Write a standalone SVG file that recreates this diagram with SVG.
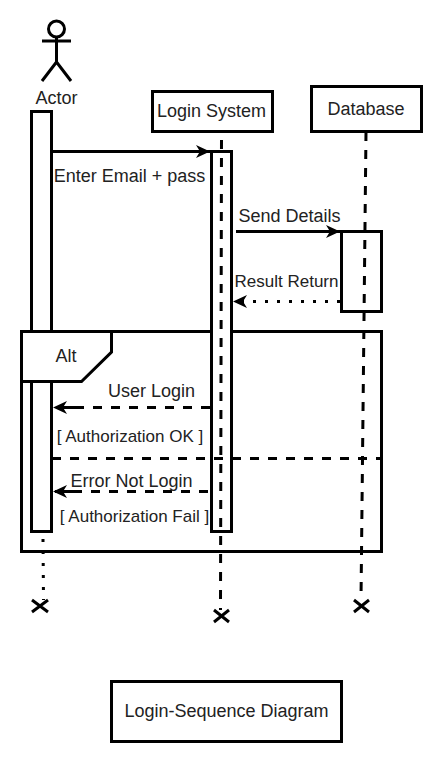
<svg xmlns="http://www.w3.org/2000/svg" width="443" height="763" viewBox="0 0 443 763">
<style>
text{font-family:"Liberation Sans",Arial,sans-serif;font-size:18px;fill:#222;text-anchor:middle}
text.s{font-size:17px}
.box{fill:#fff;stroke:#000;stroke-width:3}
.open{fill:none;stroke:#000;stroke-width:3}
.ln{fill:none;stroke:#000;stroke-width:3}
.dash{stroke-dasharray:9 9}
.dot{stroke-dasharray:3 9}
.x{fill:none;stroke:#000;stroke-width:3}
</style>
<defs>
<marker id="arr" viewBox="0 0 16 14" refX="15" refY="7" markerWidth="16" markerHeight="14" markerUnits="userSpaceOnUse" orient="auto">
<path d="M1 0.5L15 7L1 13.500L5 7Z" fill="#000"/>
</marker>
<marker id="arrt" viewBox="0 0 30 14" refX="29" refY="7" markerWidth="30" markerHeight="14" markerUnits="userSpaceOnUse" orient="auto">
<path d="M15 0.5L29 7L15 13.500L19 7Z" fill="#000"/>
<rect x="1" y="5.500" width="18" height="3" fill="#000"/>
</marker>
</defs>
<rect width="443" height="763" fill="#fff"/>
<g id="actor">
<circle class="open" cx="56.500" cy="29" r="8"/>
<path class="ln" d="M56.500 37V62M42 41H71M42 81L56.500 62L71 81"/>
<text x="56.500" y="104">Actor</text>
</g>
<g id="actor-activation"><rect class="box" x="31.500" y="111.500" width="20" height="420"/></g>
<g id="login-system">
<rect class="box" x="152.500" y="91.500" width="120" height="40"/>
<text x="211.500" y="117">Login System</text>
</g>
<g id="alt-frame">
<rect class="open" x="21.500" y="331.500" width="360" height="220"/>
<path class="box" d="M21.500 331.500H111.500V352L81.500 381.500H21.500Z"/>
<text x="66" y="362">Alt</text>
</g>
<g id="login-activation"><rect class="box" x="211.500" y="151.500" width="20" height="380"/></g>
<g id="database">
<rect class="box" x="311.500" y="86.500" width="110" height="45"/>
<text x="366" y="115">Database</text>
</g>
<g id="database-activation"><rect class="box" x="341.500" y="231.500" width="40" height="80"/></g>
<g id="connectors">
<path class="ln dash" d="M221.500 140L220.500 610"/>
<path class="ln dash" d="M366 132L361 600"/>
<path class="ln dot" d="M43 539L43.500 600"/>
<path class="ln dash" d="M52 458.500H381"/>
<path class="ln" d="M52 151.500H210" marker-end="url(#arr)"/>
<path class="ln" d="M236 231.500H340" marker-end="url(#arr)"/>
<path class="ln dot" d="M340 301.500H233" marker-end="url(#arr)"/>
<path class="ln dash" d="M210 407.500H53" marker-end="url(#arrt)"/>
<path class="ln dash" d="M208 491.500H53" marker-end="url(#arrt)"/>
<path class="x" d="M32 600L48 612M32 612L48 600"/>
<path class="x" d="M214 610L229 622M214 622L229 610"/>
<path class="x" d="M354 600L369 612M354 612L369 600"/>
</g>
<g id="labels">
<text x="129.500" y="182">Enter Email + pass</text>
<text x="289.500" y="222">Send Details</text>
<text class="s" x="286.500" y="287">Result Return</text>
<text x="151.500" y="397">User Login</text>
<text class="s" x="130" y="442">[ Authorization OK ]</text>
<text x="131.500" y="487">Error Not Login</text>
<text class="s" x="134.500" y="522">[ Authorization Fail ]</text>
</g>
<g id="caption">
<rect class="box" x="111.500" y="681.500" width="230" height="60"/>
<text x="226.500" y="717">Login-Sequence Diagram</text>
</g>
</svg>
